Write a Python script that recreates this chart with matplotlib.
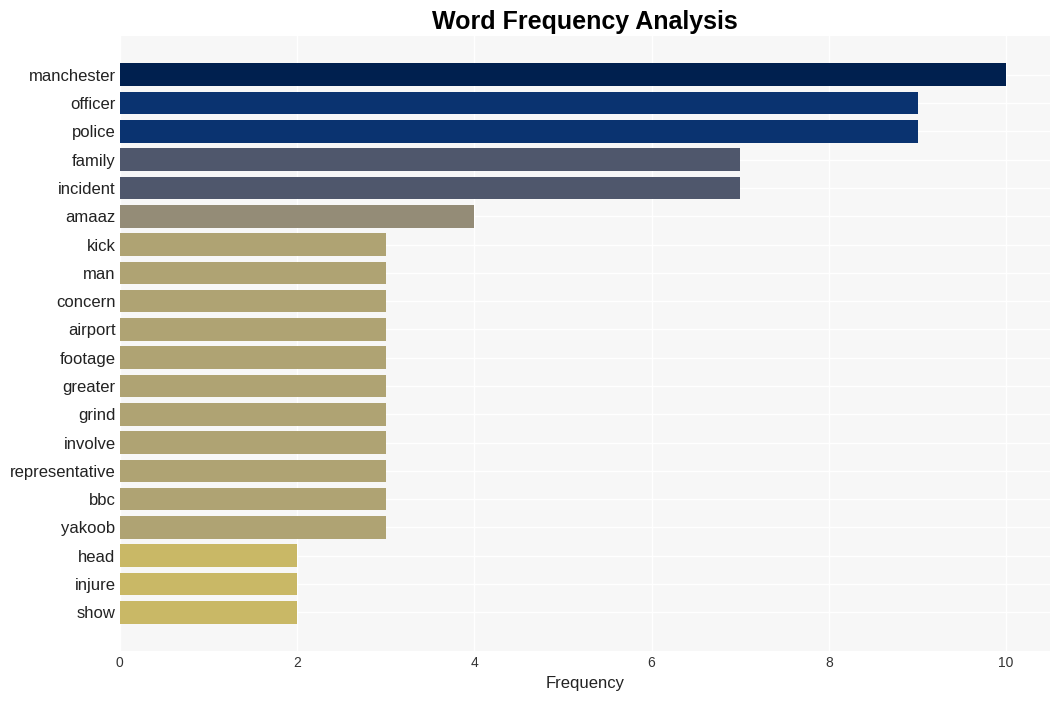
import matplotlib
matplotlib.use("Agg")
import matplotlib.pyplot as plt

plt.rcParams["font.family"] = ["Liberation Sans", "DejaVu Sans"]

words = ["manchester", "officer", "police", "family", "incident", "amaaz",
         "kick", "man", "concern", "airport", "footage", "greater", "grind",
         "involve", "representative", "bbc", "yakoob", "head", "injure", "show"]
counts = [10, 9, 9, 7, 7, 4, 3, 3, 3, 3, 3, 3, 3, 3, 3, 3, 3, 2, 2, 2]

# colour by frequency, cividis-like
colour_for = {10: "#00204f", 9: "#0a3370", 7: "#4f576c", 4: "#948c77",
              3: "#afa373", 2: "#c9b866"}
colours = [colour_for[c] for c in counts]

fig = plt.figure(figsize=(10.6, 7.01), dpi=100)
ax = fig.add_axes([0.113, 0.072, 0.878, 0.877])
ax.set_facecolor("#f7f7f7")

ax.barh(range(len(words)), counts, height=0.8, color=colours, zorder=2)
ax.set_yticks(range(len(words)))
ax.set_yticklabels(words, fontsize=12, color="#222222")
ax.set_ylim(len(words) - 1 + 1.35, -1.38)
ax.set_xlim(0, 10.5)
ax.set_xticks([0, 2, 4, 6, 8, 10])
ax.tick_params(axis="x", labelsize=10, colors="#333333", length=0, pad=4)
ax.tick_params(axis="y", length=0, pad=3)

ax.grid(True, color="white", linewidth=1, zorder=0)
ax.set_axisbelow(True)
for s in ax.spines.values():
    s.set_visible(False)

ax.set_xlabel("Frequency", fontsize=12, color="#222222", labelpad=4)
ax.set_title("Word Frequency Analysis", fontsize=18, fontweight="bold", pad=5)

fig.savefig("out.png", dpi=100, facecolor="white")
